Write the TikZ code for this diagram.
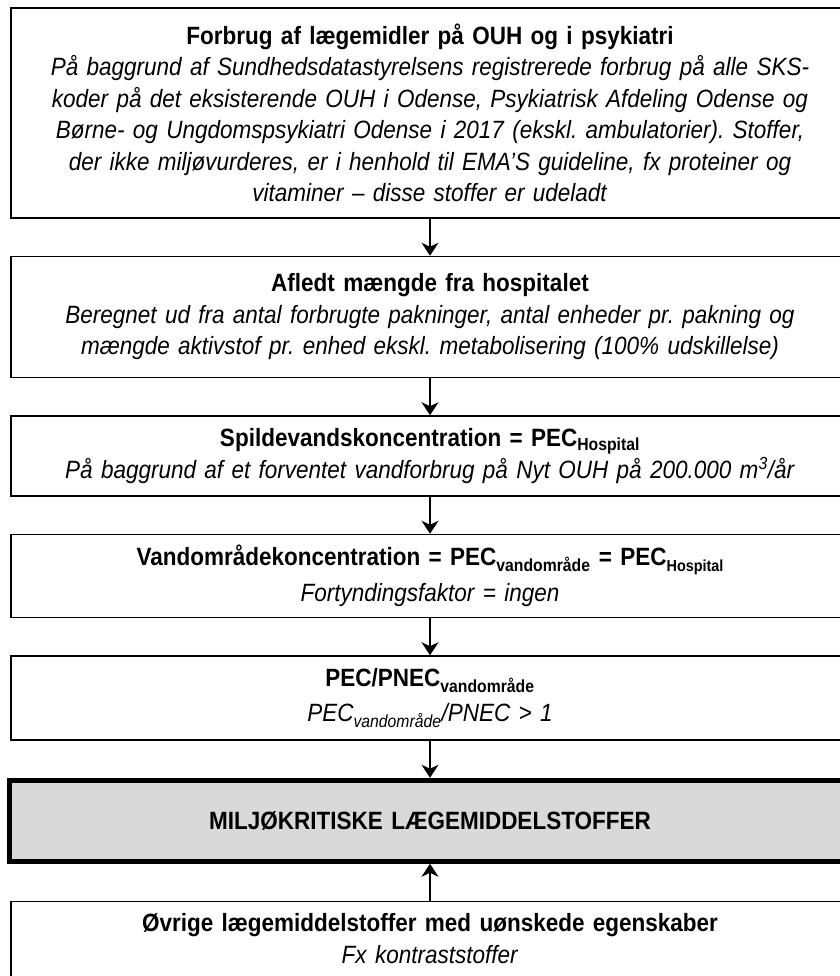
\documentclass[tikz,border=0pt]{standalone}
\usepackage{fontspec}
\setmainfont{Liberation Sans}[FakeStretch=0.9]
\usetikzlibrary{positioning,arrows.meta}
\frenchspacing

\begin{document}
\begin{tikzpicture}[x=1pt,y=1pt,
		stepbox/.style={draw,line width=1.5pt,minimum width=838pt,text width=830pt,align=center,inner sep=0pt,font=\fontsize{25}{31.5}\selectfont},
		result/.style={stepbox,line width=5pt,fill=black!15},
		arr/.style={-{Stealth[length=13pt,width=17pt,inset=4pt]},line width=1.5pt},
		node distance=37pt]
		\useasboundingbox (0,0) rectangle (839,-976);
		\node[stepbox,minimum height=210pt] (F) at (430,-113) {\textbf{Forbrug af lægemidler på OUH og i psykiatri}\\
			\textit{På baggrund af Sundhedsdatastyrelsens registrerede forbrug på alle SKS-}\\
			\textit{koder på det eksisterende OUH i Odense, Psykiatrisk Afdeling Odense og}\\
			\textit{Børne- og Ungdomspsykiatri Odense i 2017 (ekskl. ambulatorier). Stoffer,}\\
			\textit{der ikke miljøvurderes, er i henhold til EMA’S guideline, fx proteiner og}\\
			\textit{vitaminer – disse stoffer er udeladt}};
		\node[stepbox,minimum height=121pt,below=of F] (A) {\textbf{Afledt mængde fra hospitalet}\\
			\textit{Beregnet ud fra antal forbrugte pakninger, antal enheder pr. pakning og}\\
			\textit{mængde aktivstof pr. enhed ekskl. metabolisering (100\% udskillelse)}};
		\node[stepbox,minimum height=80pt,below=of A] (S) {\textbf{Spildevandskoncentration = PEC\textsubscript{Hospital}}\\
			\textit{På baggrund af et forventet vandforbrug på Nyt OUH på 200.000 m\textsuperscript{3}/år}};
		\node[stepbox,minimum height=83pt,below=of S] (V) {\textbf{Vandområdekoncentration = PEC\textsubscript{vandområde} = PEC\raisebox{-6pt}{\fontsize{16}{16}\selectfont Hospital}}\\[5pt]
			\textit{Fortyndingsfaktor = ingen}};
		\node[stepbox,minimum height=84pt,below=of V] (P) {\textbf{PEC/PNEC\textsubscript{vandområde}}\\[4pt]
			\textit{PEC\textsubscript{vandområde}/PNEC > 1}};
		\node[result,minimum height=81pt,minimum width=842pt,below=of P] (M) {\textbf{MILJØKRITISKE LÆGEMIDDELSTOFFER}};
		\node[stepbox,minimum height=100pt,below=of M,anchor=north] (O) {};
		\node[stepbox,draw=none,below=12pt of O.north,anchor=north] (Ot) {\textbf{Øvrige lægemiddelstoffer med uønskede egenskaber}\\
			\textit{Fx kontraststoffer}};
		\draw[arr] (F) -- (A);
		\draw[arr] (A) -- (S);
		\draw[arr] (S) -- (V);
		\draw[arr] (V) -- (P);
		\draw[arr] (P) -- (M);
		\draw[arr] (O) -- (M);
	\end{tikzpicture}
\end{document}
